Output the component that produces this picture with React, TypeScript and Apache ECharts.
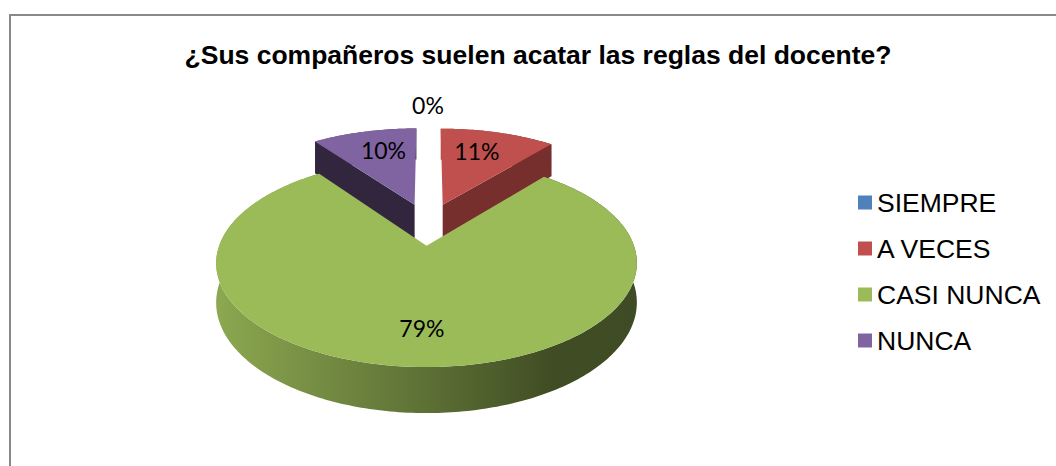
import React, { useEffect, useRef } from 'react';
import * as echarts from 'echarts';

const chartTitle = '¿Sus compañeros suelen acatar las reglas del docente?';
const categories = ['SIEMPRE', 'A VECES', 'CASI NUNCA', 'NUNCA'];
const values = [0, 11, 79, 10];
const topColors = ['#4f81bd', '#c0504d', '#9bbb59', '#8064a2'];
const cutColors = ['#385d8a', '#772f2e', '#5f7534', '#32263f'];

// projection of the tilted 3D pie (layout constants)
const CX = 428;
const CY = 224;
const K = 200;
const KQ = 94;
const DEPTH = 37;
const PERSP = 0.16;
const EXPLODE = 0.224;

function proj(u: number, v: number, h: number): number[] {
  const s = 1 / (1 + PERSP * v);
  return [CX + K * u * s, CY - KQ * v * s + DEPTH * h * s];
}

function shade(hex: string, f: number): string {
  const n = parseInt(hex.slice(1), 16);
  const r = Math.round(((n >> 16) & 255) * f);
  const g = Math.round(((n >> 8) & 255) * f);
  const b = Math.round((n & 255) * f);
  return 'rgb(' + r + ',' + g + ',' + b + ')';
}

const total = values.reduce((a, b) => a + b, 0);
const cumulative: number[] = [0];
values.forEach((v, i) => cumulative.push(cumulative[i] + v));

function makeRenderItem(i: number) {
  return (params: any, api: any) => {
    const val = api.value(0) as number;
    const a0 = (cumulative[i] / total) * Math.PI * 2;
    const a1 = ((cumulative[i] + val) / total) * Math.PI * 2;
    const mid = (a0 + a1) / 2;
    const ou = EXPLODE * Math.sin(mid);
    const ov = EXPLODE * Math.cos(mid);
    const base = Math.round((2 - ov) * 100) * 10;
    const children: any[] = [];
    if (val > 0) {
      const n = Math.max(2, Math.ceil((a1 - a0) / (Math.PI / 180)));
      const arc = (h: number) => {
        const pts: number[][] = [];
        for (let k = 0; k <= n; k++) {
          const t = a0 + ((a1 - a0) * k) / n;
          pts.push(proj(ou + Math.sin(t), ov + Math.cos(t), h));
        }
        return pts;
      };
      const topArc = arc(0);
      const botArc = arc(1);
      const apexTop = proj(ou, ov, 0);
      const apexBot = proj(ou, ov, 1);
      const c = topColors[i];
      children.push({
        type: 'polygon',
        shape: { points: topArc.concat(botArc.slice().reverse()) },
        style: {
          fill: new echarts.graphic.LinearGradient(0, 0, 1, 0, [
            { offset: 0, color: shade(c, 0.9) },
            { offset: 0.5, color: shade(c, 0.6) },
            { offset: 0.8, color: shade(c, 0.41) },
            { offset: 1, color: shade(c, 0.4) },
          ]),
        },
        z2: base,
      });
      if (Math.sin(a0) < -1e-6) {
        children.push({
          type: 'polygon',
          shape: { points: [apexTop, topArc[0], botArc[0], apexBot] },
          style: { fill: cutColors[i] },
          z2: base + 1,
        });
      }
      if (Math.sin(a1) > 1e-6) {
        children.push({
          type: 'polygon',
          shape: { points: [apexTop, topArc[n], botArc[n], apexBot] },
          style: { fill: cutColors[i] },
          z2: base + 1,
        });
      }
      children.push({
        type: 'polygon',
        shape: { points: [apexTop].concat(topArc) },
        style: { fill: c },
        z2: base + 2,
      });
    }
    const share = val / total;
    const outside = share < 0.03;
    const rH = outside ? 1.35 : 0.6;
    const rV = outside ? 1.37 : 0.72;
    const lp = proj(ou + rH * Math.sin(mid), ov + rV * Math.cos(mid), 0);
    children.push({
      type: 'text',
      x: lp[0],
      y: lp[1],
      style: {
        text: Math.round(share * 100) + '%',
        fill: '#000',
        font: '23px Lato, "Open Sans", sans-serif',
        align: 'center',
        verticalAlign: 'middle',
      },
      z2: 100000,
    });
    return { type: 'group', children };
  };
}

export default function App() {
  const ref = useRef<HTMLDivElement>(null);
  useEffect(() => {
    if (!ref.current) return;
    const chart = echarts.init(ref.current, undefined, { renderer: 'svg' });
    chart.setOption({
      animation: false,
      backgroundColor: '#ffffff',
      legend: {
        orient: 'vertical',
        left: 858,
        top: 189,
        padding: 0,
        itemWidth: 14,
        itemHeight: 14,
        itemGap: 19,
        icon: 'rect',
        data: categories,
        selectedMode: false,
        textStyle: {
          fontSize: 26.5,
          fontFamily: '"Liberation Sans", Arial, sans-serif',
          color: '#000',
        },
      },
      graphic: [
        {
          type: 'rect',
          shape: { x: 10, y: 15, width: 1200, height: 600 },
          style: { fill: 'none', stroke: '#898989', lineWidth: 2 },
        },
        {
          type: 'text',
          x: 538,
          y: 55,
          style: {
            text: chartTitle,
            fill: '#000',
            font: 'bold 26.5px "Liberation Sans", Arial, sans-serif',
            align: 'center',
            verticalAlign: 'middle',
          },
        },
      ],
      series: categories.map((name, i) => ({
        type: 'custom',
        name,
        coordinateSystem: 'none',
        itemStyle: { color: topColors[i] },
        renderItem: makeRenderItem(i),
        data: [values[i]],
      })),
    });
    return () => chart.dispose();
  }, []);
  return (
    <div
      ref={ref}
      style={{ position: 'absolute', left: 0, top: 0, width: 1056, height: 466 }}
    />
  );
}
